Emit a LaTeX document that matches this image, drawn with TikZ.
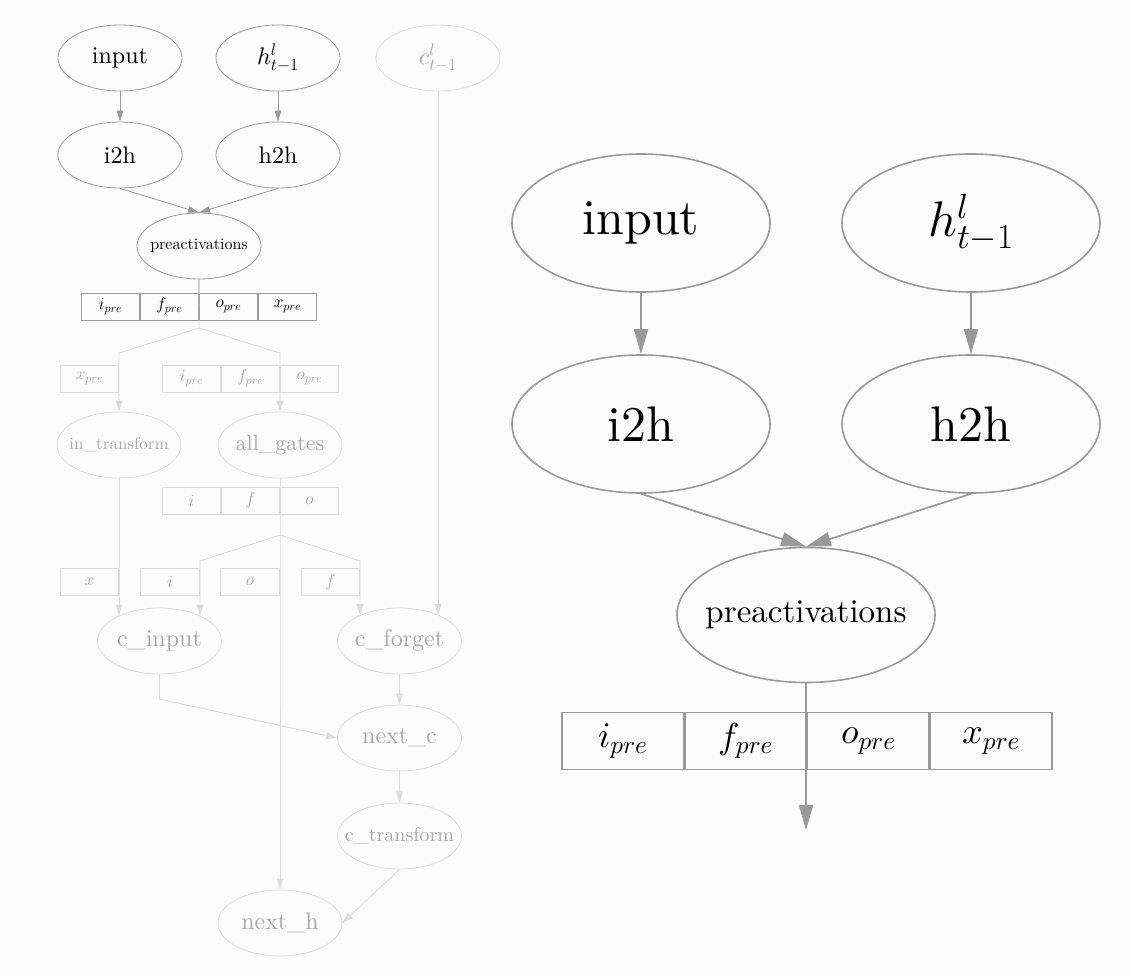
\RequirePackage{fix-cm}
\documentclass[tikz,border=0pt]{standalone}
\usepackage{fontspec}
\setmainfont{lmroman10-regular.otf}
\DeclareFontShape{OML}{cmm}{m}{it}{<-6>cmmi5<6-8>cmmi7<8->cmmi10}{}
\usetikzlibrary{shapes.geometric,arrows.meta}
\definecolor{dk}{HTML}{999999}
\definecolor{lt}{HTML}{DCDCDC}
\definecolor{lttxt}{HTML}{A8A8A8}
\definecolor{bg}{HTML}{FCFCFC}
\newcommand{\myfs}[1]{\fontsize{#1}{#1}\selectfont}
\tikzset{
  ndk/.style={ellipse, draw=dk, line width=0.8pt, inner xsep=-30pt, inner ysep=0pt, minimum width=124pt, minimum height=66pt, text=black, font=\myfs{24}},
  nlt/.style={ndk, draw=lt, text=lttxt},
  nbig/.style={ellipse, draw=dk, line width=1.6pt, inner xsep=-30pt, inner ysep=0pt, minimum width=258pt, minimum height=138pt, text=black, font=\myfs{50}},
  cdk/.style={rectangle, draw=dk, line width=0.8pt, minimum width=58.5pt, minimum height=27pt, inner sep=0pt, text=black, font=\myfs{17}},
  clt/.style={cdk, draw=lt, text=lttxt},
  cbig/.style={rectangle, draw=dk, line width=1.6pt, minimum width=121.5pt, minimum height=57pt, inner sep=0pt, text=black, font=\myfs{36}},
  edk/.style={draw=dk, line width=0.8pt, -{Triangle[length=11pt,width=6.5pt]}},
  elt/.style={draw=lt, line width=0.9pt, -{Triangle[length=11pt,width=6.5pt]}},
  ldk/.style={draw=dk, line width=0.8pt},
  ebig/.style={draw=dk, line width=1.7pt, -{Triangle[length=25pt,width=14pt]}}
}
\begin{document}
\begin{tikzpicture}[x=1pt,y=-1pt]
\path[fill=bg] (0,0) rectangle (1130,976);
\useasboundingbox (0,0) rectangle (1130,976);

% ---------- left diagram ----------
\node[ndk] (in) at (120,58) {input};
\node[ndk] (h) at (278,58) {$h^l_{t-1}$};
\node[nlt] (c) at (438,58) {$c^l_{t-1}$};
\node[ndk] (i2h) at (120,155) {i2h};
\node[ndk] (h2h) at (278,155) {h2h};
\node[ndk, font=\myfs{16}] (pre) at (199,246) {preactivations};

\node[cdk] (p1) at (110.5,306.5) {$i_{pre}$};
\node[cdk] (p2) at (169.5,306.5) {$f_{pre}$};
\node[cdk] (p3) at (228.5,306.5) {$o_{pre}$};
\node[cdk] (p4) at (287.5,306.5) {$x_{pre}$};

\node[clt] (q1) at (89.5,378.5) {$x_{pre}$};
\node[clt] (q2) at (191.5,378.5) {$i_{pre}$};
\node[clt] (q3) at (250.5,378.5) {$f_{pre}$};
\node[clt] (q4) at (309.5,378.5) {$o_{pre}$};

\node[nlt, font=\myfs{17}] (itr) at (119,445) {in\_transform};
\node[nlt, font=\myfs{22}] (ag) at (280,445) {all\_gates};

\node[clt] (g1) at (191.5,500.5) {$i$};
\node[clt] (g2) at (250.5,500.5) {$f$};
\node[clt] (g3) at (309.5,500.5) {$o$};

\node[clt] (r1) at (89.5,582) {$x$};
\node[clt] (r2) at (170,582) {$i$};
\node[clt] (r3) at (250,582) {$o$};
\node[clt] (r4) at (330.5,582) {$f$};

\node[nlt] (cin) at (159.5,641) {c\_input};
\node[nlt] (cfg) at (399.5,641) {c\_forget};
\node[nlt] (nc) at (399.5,738) {next\_c};
\node[nlt, font=\myfs{20}] (ctr) at (399.5,836) {c\_transform};
\node[nlt] (nh) at (280,923) {next\_h};

\coordinate (s1) at (199,328);
\coordinate (s1l) at (119,353);
\coordinate (s1r) at (280,353);
\coordinate (s2) at (280,535);
\coordinate (s2l) at (200,561);
\coordinate (s2r) at (360,561);
\coordinate (k) at (159.5,699);

\draw[edk] (in.south) -- (i2h.north);
\draw[edk] (h.south) -- (h2h.north);
\draw[edk] (i2h.south) -- (pre.north);
\draw[edk] (h2h.south) -- (pre.north);

\draw[elt] (pre.south) -- (s1) -- (s1l) -- (itr.north);
\draw[elt] (s1) -- (s1r) -- (ag.north);
\draw[ldk] (pre.south) -- (p2.south east);

\draw[elt] (ag.south) -- (s2) -- (nh.north);
\draw[elt] (s2) -- (s2l) -- (s2l |- cin.32);
\draw[elt] (s2) -- (s2r) -- (s2r |- cfg.147);
\draw[elt] (itr.south) -- (itr.south |- cin.148);
\draw[elt] (c.south) -- (c.south |- cfg.33);
\draw[elt] (cfg.south) -- (nc.north);
\draw[elt] (nc.south) -- (ctr.north);
\draw[elt] (cin.south) -- (k) -- (nc.west);
\draw[elt] (ctr.south) -- (nh.east);

% ---------- right diagram ----------
\node[nbig] (Rin) at (641,223) {input};
\node[nbig] (Rh) at (971,223) {$h^l_{t-1}$};
\node[nbig] (Ri2h) at (641,424) {i2h};
\node[nbig] (Rh2h) at (971,424) {h2h};
\node[nbig, font=\myfs{33}, minimum height=135pt] (Rpre) at (806,615) {preactivations};

\node[cbig] (Rc1) at (622.7,741) {$i_{pre}$};
\node[cbig] (Rc2) at (745.5,741) {$f_{pre}$};
\node[cbig] (Rc3) at (868.3,741) {$o_{pre}$};
\node[cbig] (Rc4) at (991.1,741) {$x_{pre}$};

\coordinate (Rend) at (806,830);

\draw[ebig] (Rin.south) -- (Ri2h.north);
\draw[ebig] (Rh.south) -- (Rh2h.north);
\draw[ebig] (Ri2h.south) -- (Rpre.north);
\draw[ebig] (Rh2h.south) -- (Rpre.north);
\draw[ebig] (Rpre.south) -- (Rend);
\end{tikzpicture}
\end{document}
